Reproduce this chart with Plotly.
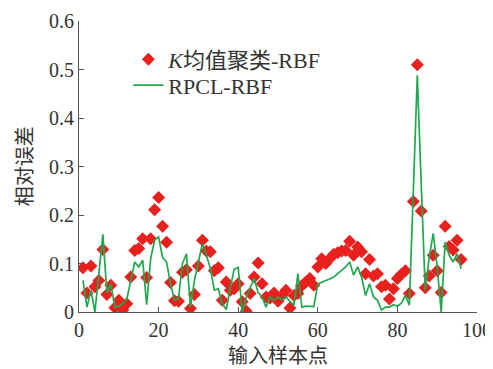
import plotly.graph_objects as go

sample_x = list(range(1, 97))

kmeans_rbf = [
    0.091, 0.039, 0.095, 0.052, 0.065, 0.129, 0.036, 0.055, 0.009, 0.024,
    0.004, 0.017, 0.072, 0.127, 0.131, 0.151, 0.071, 0.151, 0.211, 0.236,
    0.177, 0.144, 0.061, 0.023, 0.022, 0.082, 0.087, 0.007, 0.036, 0.095,
    0.148, 0.126, 0.124, 0.085, 0.091, 0.024, 0.062, 0.045, 0.048, 0.058,
    0.021, 0.002, 0.038, 0.072, 0.101, 0.058, 0.031, 0.029, 0.039, 0.022,
    0.034, 0.045, 0.008, 0.034, 0.038, 0.054, 0.062, 0.069, 0.055, 0.093,
    0.110, 0.100, 0.110, 0.119, 0.122, 0.126, 0.127, 0.146, 0.117, 0.134,
    0.124, 0.079, 0.108, 0.074, 0.079, 0.052, 0.055, 0.027, 0.048, 0.069,
    0.078, 0.085, 0.038, 0.228, 0.510, 0.208, 0.050, 0.074, 0.117, 0.085,
    0.040, 0.177, 0.135, 0.128, 0.148, 0.108,
]

rpcl_rbf = [
    0.065, 0.010, 0.045, 0.000, 0.080, 0.160, 0.040, 0.058, 0.010, 0.012,
    0.018, 0.026, 0.065, 0.103, 0.093, 0.107, 0.015, 0.110, 0.148, 0.155,
    0.112, 0.103, 0.058, 0.024, 0.028, 0.100, 0.120, 0.010, 0.065, 0.100,
    0.141, 0.117, 0.090, 0.045, 0.048, 0.017, 0.005, 0.050, 0.088, 0.092,
    0.000, 0.030, 0.050, 0.069, 0.040, 0.031, 0.010, 0.031, 0.024, 0.031,
    0.025, 0.031, 0.022, 0.014, 0.079, 0.010, 0.012, 0.012, 0.011, 0.058,
    0.062, 0.065, 0.068, 0.072, 0.079, 0.086, 0.093, 0.103, 0.076, 0.093,
    0.072, 0.034, 0.058, 0.031, 0.024, 0.004, 0.010, 0.010, 0.015, 0.012,
    0.018, 0.034, 0.014, 0.250, 0.488, 0.260, 0.045, 0.113, 0.162, 0.093,
    0.000, 0.144, 0.117, 0.103, 0.120, 0.089,
]

x_ticks = [0, 20, 40, 60, 80, 100]
y_ticks = [0, 0.1, 0.2, 0.3, 0.4, 0.5, 0.6]
y_tick_text = ["0", "0.1", "0.2", "0.3", "0.4", "0.5", "0.6"]

serif = "Liberation Serif, Times New Roman, serif"
cjk = "Noto Sans CJK SC"
text_color = "#333333"

fig = go.Figure()
fig.add_trace(go.Scatter(
    x=sample_x, y=kmeans_rbf, mode="markers",
    name="<i>K</i>均值聚类-RBF", legend="legend",
    marker=dict(symbol="diamond", size=10, color="#e8211e", line=dict(width=0)),
))
fig.add_trace(go.Scatter(
    x=sample_x, y=rpcl_rbf, mode="lines",
    name="RPCL-RBF", legend="legend2",
    line=dict(color="#1fa84c", width=1.7),
))

axis_common = dict(
    showgrid=False, zeroline=False, showline=True, linecolor="#555555",
    linewidth=1, ticks="inside", ticklen=5, tickcolor="#555555",
    tickfont=dict(family=serif, size=20, color=text_color),
    automargin=False,
)

legend_common = dict(
    xanchor="left", yanchor="middle",
    bgcolor="rgba(0,0,0,0)", borderwidth=0,
    font=dict(family=serif + ", " + cjk, size=22, color=text_color),
    itemwidth=30,
)

# the page body has an 8px margin, so the figure is sized to fit the window
fig.update_layout(
    width=485, height=361,
    margin=dict(l=71, r=16, t=13, b=57),
    paper_bgcolor="white", plot_bgcolor="white",
    showlegend=True,
    legend=dict(x=0.124, y=0.868, **legend_common),
    legend2=dict(x=0.124, y=0.779, **legend_common),
    xaxis=dict(range=[0, 100], tickvals=x_ticks, **axis_common),
    yaxis=dict(range=[0, 0.6], tickvals=y_ticks, ticktext=y_tick_text, **axis_common),
    annotations=[
        dict(text="输入样本点", xref="paper", yref="paper", x=0.5, y=-0.146,
             xanchor="center", yanchor="middle", showarrow=False,
             font=dict(family=cjk, size=20, color=text_color)),
        dict(text="相对误差", xref="paper", yref="paper", x=-0.139, y=0.5,
             xanchor="center", yanchor="middle", showarrow=False, textangle=-90,
             font=dict(family=cjk, size=20, color=text_color)),
    ],
)

fig.write_html("out.html")
